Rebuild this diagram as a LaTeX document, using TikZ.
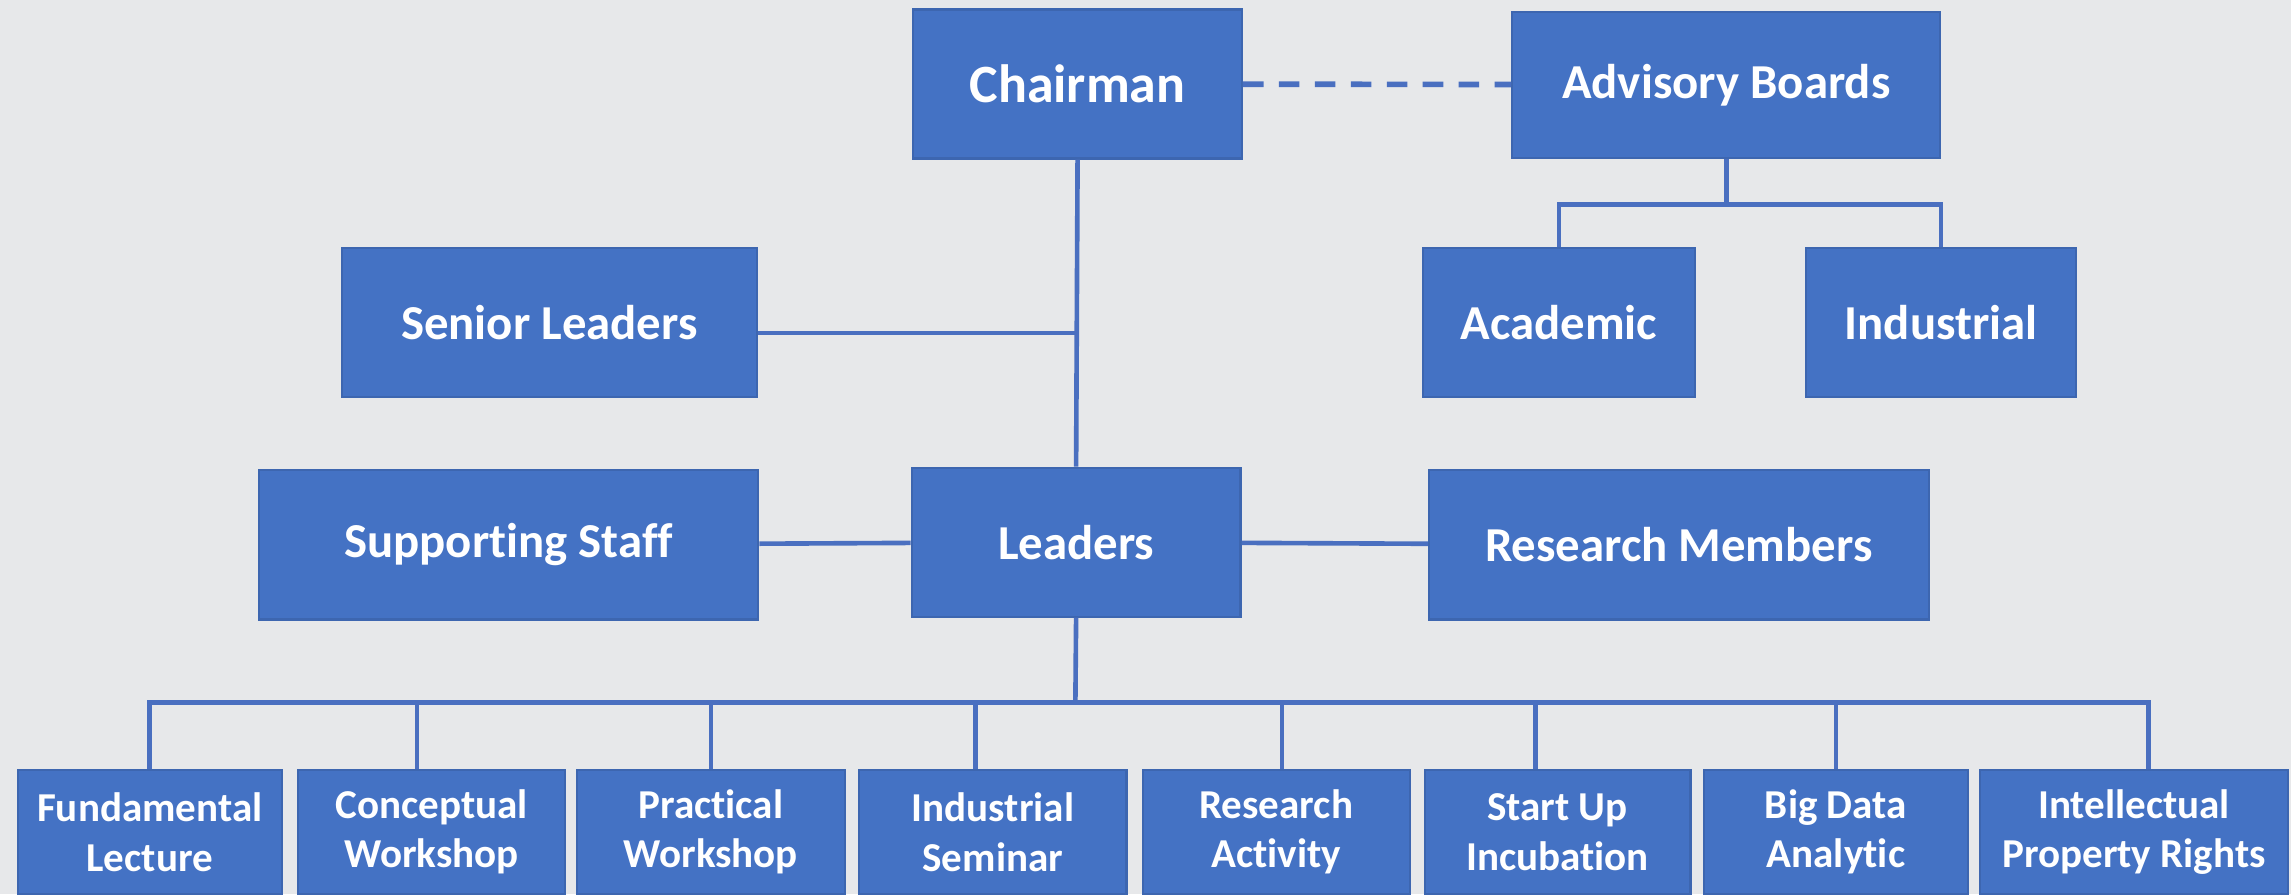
\documentclass[tikz,border=0pt]{standalone}
\usepackage{fontspec}
\setmainfont{Carlito}[Ligatures=NoCommon]
\definecolor{boxblue}{HTML}{4472C4}
\definecolor{boxedge}{HTML}{3D66B0}
\definecolor{linkblue}{HTML}{4A6FC0}
\definecolor{paper}{HTML}{E7E8EA}
\tikzset{
  unit/.style={fill=boxblue,draw=boxedge,line width=0.4pt,text=white,font=\bfseries\fontsize{9.5}{11.4}\selectfont,
    minimum height=1.02cm,inner sep=0pt,align=center},
  activity/.style={unit,minimum height=0.85cm,font=\bfseries\fontsize{8}{9.6}\selectfont},
  link/.style={draw=linkblue,line width=0.9pt}
}
\begin{document}
\begin{tikzpicture}
    \fill[paper] (0,0) rectangle (15.68,6.12);
    \useasboundingbox (0,0) rectangle (15.68,6.12);
    % top row
    \node[unit,minimum width=2.25cm,font=\bfseries\fontsize{10.5}{12.6}\selectfont] (chair) at (7.375,5.545) {Chairman};
    \node[unit,minimum width=2.93cm,minimum height=1.0cm] (adv) at (11.815,5.54) {Advisory Boards};
    \node[unit,minimum width=1.86cm] (acad) at (10.67,3.91) {Academic};
    \node[unit,minimum width=1.85cm] (ind) at (13.285,3.91) {Industrial};
    \node[unit,minimum width=2.84cm] (senior) at (3.76,3.91) {Senior Leaders};
    % middle row
    \node[unit,minimum width=2.25cm] (lead) at (7.365,2.41) {Leaders};
    \node[unit,minimum width=3.42cm] (staff) at (3.48,2.39) {Supporting Staff};
    \node[unit,minimum width=3.42cm] (members) at (11.49,2.39) {Research Members};
    % bottom row
    \node[activity,minimum width=1.81cm] (lect) at (1.025,0.425) {Fundamental\\Lecture};
    \node[activity,minimum width=1.83cm] (cwork) at (2.955,0.425) {Conceptual\\Workshop};
    \node[activity,minimum width=1.83cm] (pwork) at (4.865,0.425) {Practical\\Workshop};
    \node[activity,minimum width=1.83cm] (sem) at (6.795,0.425) {Industrial\\Seminar};
    \node[activity,minimum width=1.83cm] (ract) at (8.735,0.425) {Research\\Activity};
    \node[activity,minimum width=1.82cm] (incub) at (10.66,0.425) {Start Up\\Incubation};
    \node[activity,minimum width=1.81cm] (bigdata) at (12.565,0.425) {Big Data\\Analytic};
    \node[activity,minimum width=2.11cm] (ipr) at (14.605,0.425) {Intellectual\\Property Rights};
    % connectors
    \coordinate (advbus) at (11.85,4.72);
    \coordinate (bus) at (7.36,1.31);
    \draw[link,dash pattern=on 4pt off 3pt,line width=1.1pt] (chair) -- (adv);
    \draw[link] (adv.south) -- (adv.south |- advbus);
    \draw[link] (acad.north) |- (advbus) -| (ind.north);
    \draw[link] (chair.south) -- (lead.north);
    \draw[link] ([yshift=-0.07cm]senior.east) -- ([yshift=-0.07cm]senior.east -| chair.south);
    \draw[link] (staff) -- (lead);
    \draw[link] (lead) -- (members);
    \draw[link] (lead.south) -- (bus);
    \draw[link] (lect.north) |- (bus) -| ([xshift=0.1cm]ipr.north);
    \draw[link] ([xshift=-0.1cm]cwork.north) -- ([xshift=-0.1cm]cwork.north |- bus);
    \draw[link] (pwork.north) -- (pwork.north |- bus);
    \draw[link] ([xshift=-0.12cm]sem.north) -- ([xshift=-0.12cm]sem.north |- bus);
    \draw[link] ([xshift=0.04cm]ract.north) -- ([xshift=0.04cm]ract.north |- bus);
    \draw[link] ([xshift=-0.15cm]incub.north) -- ([xshift=-0.15cm]incub.north |- bus);
    \draw[link] (bigdata.north) -- (bigdata.north |- bus);
\end{tikzpicture}
\end{document}
